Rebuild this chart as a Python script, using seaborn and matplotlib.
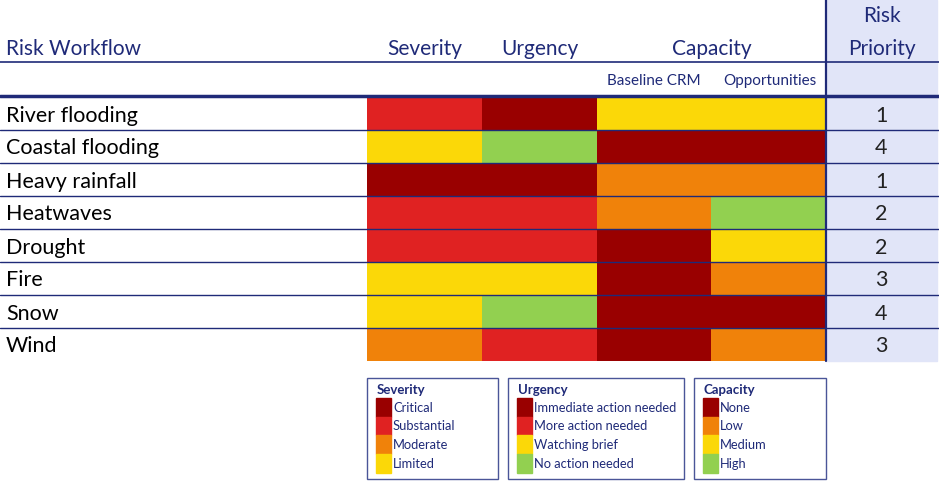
import numpy as np
import pandas as pd
import seaborn as sns
from matplotlib import pyplot as plt
from matplotlib.colors import ListedColormap
from matplotlib.patches import Rectangle

# rating codes: 0 = darkest red ... 4 = green
risks = ['River flooding', 'Coastal flooding', 'Heavy rainfall', 'Heatwaves',
         'Drought', 'Fire', 'Snow', 'Wind']
columns = ['Severity', 'Urgency', 'Baseline CRM', 'Opportunities']
severity = [1, 3, 0, 1, 1, 3, 3, 2]
urgency = [0, 4, 0, 1, 1, 3, 4, 1]
baseline_crm = [3, 0, 2, 2, 0, 0, 0, 0]
opportunities = [3, 0, 2, 4, 3, 2, 0, 2]
priority = [1, 4, 1, 2, 2, 3, 4, 3]

palette = ['#990000', '#E02222', '#F0820A', '#FBD808', '#92D050']

sev_labels = ['Critical', 'Substantial', 'Moderate', 'Limited']
urg_labels = ['Immediate action needed', 'More action needed',
              'Watching brief', 'No action needed']
cap_labels = ['None', 'Low', 'Medium', 'High']
sev_codes = [0, 1, 2, 3]
urg_codes = [0, 1, 3, 4]
cap_codes = [0, 2, 3, 4]

navy = '#1F2A78'
lavender = '#E1E5F8'

W, H = 939, 487
top, row_h = 97, 33
x0, x1 = 367, 826

df = pd.DataFrame({'Severity': severity, 'Urgency': urgency,
                   'Baseline CRM': baseline_crm,
                   'Opportunities': opportunities}, index=risks)

sns.set_theme(style='white')
plt.rcParams['font.family'] = ['Lato', 'DejaVu Sans']

fig = plt.figure(figsize=(W / 100, H / 100), dpi=100)

bottom = top + row_h * len(risks)
hax = fig.add_axes([x0 / W, 1 - bottom / H, (x1 - x0) / W, (bottom - top) / H])
sns.heatmap(df, ax=hax, cmap=ListedColormap(palette), vmin=-0.5, vmax=4.5,
            cbar=False, xticklabels=False, yticklabels=False)
hax.axis('off')

ax = fig.add_axes([0, 0, 1, 1], zorder=5)
ax.set_xlim(0, W)
ax.set_ylim(H, 0)
ax.axis('off')
ax.patch.set_visible(False)

# priority column background
ax.add_patch(Rectangle((x1, 0), 937 - x1, bottom, color=lavender, zorder=0))

# header
hfs = 15
ax.text(6, 55, 'Risk Workflow', color=navy, fontsize=hfs, va='baseline')
ax.text(424.5, 55, 'Severity', color=navy, fontsize=hfs, va='baseline', ha='center')
ax.text(539.5, 55, 'Urgency', color=navy, fontsize=hfs, va='baseline', ha='center')
ax.text(711.5, 55, 'Capacity', color=navy, fontsize=hfs, va='baseline', ha='center')
ax.text(882, 22, 'Risk', color=navy, fontsize=hfs, va='baseline', ha='center')
ax.text(882, 55, 'Priority', color=navy, fontsize=hfs, va='baseline', ha='center')
ax.text(654, 85, 'Baseline CRM', color=navy, fontsize=11, va='baseline', ha='center')
ax.text(770, 85, 'Opportunities', color=navy, fontsize=11, va='baseline', ha='center')

ax.plot([0, W], [62, 62], color=navy, lw=1.2)
ax.plot([0, W], [96, 96], color=navy, lw=2.5)
ax.plot([x1, x1], [0, bottom], color=navy, lw=1.6)

for i, (name, p) in enumerate(zip(risks, priority)):
    yc = top + row_h * (i + 0.5)
    ax.text(6, yc + 8, name, color='black', fontsize=15.5, va='baseline')
    ax.text(881, yc + 8, str(p), color='#222222', fontsize=15.5,
            va='baseline', ha='center')
    yb = top + row_h * (i + 1)
    if i < len(risks) - 1:
        ax.plot([0, W], [yb, yb], color=navy, lw=1.0)

# legend boxes
legends = [('Severity', sev_labels, sev_codes, 367, 498),
           ('Urgency', urg_labels, urg_codes, 508, 684),
           ('Capacity', cap_labels, cap_codes, 694, 826)]
for title, labels, codes, lx0, lx1 in legends:
    ax.add_patch(Rectangle((lx0, 378), lx1 - lx0, 101, fill=False,
                           edgecolor='#4A5598', lw=1.0))
    ax.text(lx0 + 10, 390, title, color=navy, fontsize=9.5,
            fontweight='bold', va='center')
    for j, (lab, c) in enumerate(zip(labels, codes)):
        sy = 398 + 18.7 * j
        ax.add_patch(Rectangle((lx0 + 9, sy), 15, 18.7, color=palette[c]))
        ax.text(lx0 + 26, sy + 9.5, lab, color=navy, fontsize=9.3, va='center')

fig.savefig('out.png', dpi=100)
